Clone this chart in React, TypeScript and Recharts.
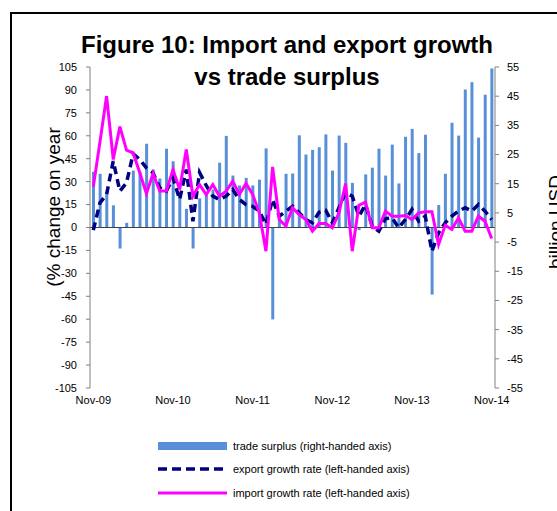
import {
  ComposedChart,
  Bar,
  Line,
  XAxis,
  YAxis,
  ReferenceLine,
} from "recharts";

const MONTHS = ["Jan", "Feb", "Mar", "Apr", "May", "Jun", "Jul", "Aug", "Sep", "Oct", "Nov", "Dec"];

// Nov-09 .. Nov-14, monthly
const categories: string[] = [];
for (let i = 0; i < 61; i++) {
  const m = (10 + i) % 12;
  const y = 9 + Math.floor((10 + i) / 12);
  categories.push(`${MONTHS[m]}-${String(y).padStart(2, "0")}`);
}

const xTicks = ["Nov-09", "Nov-10", "Nov-11", "Nov-12", "Nov-13", "Nov-14"];
const leftTicks = [-105, -90, -75, -60, -45, -30, -15, 0, 15, 30, 45, 60, 75, 90, 105];
const rightTicks = [-55, -45, -35, -25, -15, -5, 5, 15, 25, 35, 45, 55];

// billion USD
const tradeSurplus = [
  19.1, 18.4, 12, 7.6, -7.2, 1.6, 19.5, 19, 28.7, 19.9, 16.8, 27.0,
  22.7, 12, 6.4, -7.2, 10, 12, 13, 22.2, 31.4, 17.8, 14.4, 17,
  14.4, 16.4, 27.1, -31.5, 5, 18.4, 18.5, 31.6, 25, 26.6, 27.5, 31.9,
  19.5, 31.5, 29, 15.3, -0.9, 18.2, 20.5, 27, 17.8, 28.4, 15.1, 31.1,
  33.8, 25.5, 31.8, -23, 7.7, 18.4, 35.9, 31.5, 47.3, 49.8, 30.8, 45.5,
  54.5,
];

// % change on year
const exportGrowth = [
  -1.7, 16.1, 21.6, 43.4, 23.8, 29.2, 48.2, 44.5, 39, 35.8, 26, 23.8,
  32.5, 18.3, 37.9, 4.1, 36, 27.5, 20.5, 18.3, 20.5, 24.8, 18.3, 15,
  13.9, 10.7, 2, 18.3, 7.4, 10.7, 13.9, 9.6, 5.2, 3.1, 10, 11.3,
  3.1, 12.9, 22.7, 20.5, 7.4, 15, 0.9, -2.4, 5.8, 6.3, -0.2, 5.2,
  11.8, 4.1, 7.4, -15.5, -3.5, 3.1, 7.4, 10.7, 12.9, 10.7, 15, 10.7,
  5.2,
];

const importGrowth = [
  26.6, 56, 86, 44.5, 66, 50.6, 48.8, 35.8, 22.2, 35.3, 23.8, 23.8,
  37.9, 24.8, 51, 20.5, 28.1, 21.6, 28.1, 20.5, 23.8, 30.3, 21.6, 28.8,
  21.6, 9.6, -15.5, 39.7, 5.2, 0.9, 12.9, 8.5, 5.2, -2.4, 2.6, 2.6,
  -0.2, 9.6, 28.8, -15.5, 14.6, 16.6, -0.2, -0.2, 10.7, 7.4, 7.4, 7.8,
  5.2, 9.6, 10.3, 10.3, -11.1, 1.5, -1.3, 6.3, -2.4, -2.4, 7.4, 4.1,
  -7.2,
];

const data = categories.map((month, i) => ({
  month,
  surplus: tradeSurplus[i],
  exports: exportGrowth[i],
  imports: importGrowth[i],
}));

const FONT = '"Liberation Sans", Arial, sans-serif';
const BAR = "#5890D8";
const NAVY = "#000080";
const PINK = "#FF00FF";

const tickStyle = { fontSize: 11, fill: "#000", fontFamily: FONT };

export default function App() {
  return (
    <div
      style={{
        position: "absolute",
        left: 0,
        top: 0,
        width: 557,
        height: 511,
        overflow: "hidden",
        background: "#fff",
        fontFamily: FONT,
      }}
    >
      <div
        style={{
          position: "absolute",
          left: 10,
          top: 12,
          width: 600,
          height: 600,
          border: "2px solid #000",
        }}
      />
      <div style={{ position: "absolute", left: 0, top: 0 }}>
        <ComposedChart
          width={557}
          height={511}
          data={data}
          margin={{ top: 67, right: 22, bottom: 93, left: 50 }}
        >
          <XAxis
            dataKey="month"
            ticks={xTicks}
            interval={0}
            axisLine={false}
            tickLine={false}
            tick={tickStyle}
            height={30}
          />
          <YAxis
            yAxisId="left"
            domain={[-105, 105]}
            ticks={leftTicks}
            interval={0}
            width={40}
            tick={tickStyle}
            tickSize={4}
            tickMargin={9}
            axisLine={{ stroke: "#808080" }}
            tickLine={{ stroke: "#808080" }}
          />
          <YAxis
            yAxisId="right"
            orientation="right"
            domain={[-55, 55]}
            ticks={rightTicks}
            interval={0}
            width={40}
            tick={tickStyle}
            tickSize={4}
            tickMargin={8}
            axisLine={{ stroke: "#808080" }}
            tickLine={{ stroke: "#808080" }}
          />
          <Bar
            yAxisId="right"
            dataKey="surplus"
            fill={BAR}
            barSize={3}
            isAnimationActive={false}
          />
          <ReferenceLine yAxisId="left" y={0} stroke="#404040" strokeWidth={1} />
          <Line
            yAxisId="left"
            type="linear"
            dataKey="exports"
            stroke={NAVY}
            strokeWidth={3.5}
            strokeDasharray="8 5"
            dot={false}
            isAnimationActive={false}
          />
          <Line
            yAxisId="left"
            type="linear"
            dataKey="imports"
            stroke={PINK}
            strokeWidth={3}
            dot={false}
            isAnimationActive={false}
          />
        </ComposedChart>
      </div>

      <div
        style={{
          position: "absolute",
          left: 0,
          width: 574,
          top: 29,
          textAlign: "center",
          fontWeight: "bold",
          fontSize: 24,
          lineHeight: "32px",
          color: "#000",
        }}
      >
        Figure 10: Import and export growth
        <br />
        vs trade surplus
      </div>

      <div
        style={{
          position: "absolute",
          left: 54,
          top: 207,
          transform: "translate(-50%, -50%) rotate(-90deg)",
          fontSize: 19,
          whiteSpace: "nowrap",
          color: "#000",
        }}
      >
        (% change on year
      </div>
      <div
        style={{
          position: "absolute",
          left: 556,
          top: 222,
          transform: "translate(-50%, -50%) rotate(-90deg)",
          fontSize: 19,
          whiteSpace: "nowrap",
          color: "#000",
        }}
      >
        billion USD
      </div>

      <div style={{ position: "absolute", left: 158, top: 434, fontSize: 11, color: "#000" }}>
        {[
          { label: "trade surplus (right-handed axis)", kind: "bar" },
          { label: "export growth rate (left-handed axis)", kind: "dash" },
          { label: "import growth rate (left-handed axis)", kind: "line" },
        ].map((item) => (
          <div key={item.label} style={{ display: "flex", alignItems: "center", height: 23.5 }}>
            <svg width={70} height={10} style={{ marginRight: 5 }}>
              {item.kind === "bar" && <rect x={0} y={1} width={69} height={8} fill={BAR} />}
              {item.kind === "dash" && (
                <line x1={0} y1={5} x2={69} y2={5} stroke={NAVY} strokeWidth={3.5} strokeDasharray="9 5" />
              )}
              {item.kind === "line" && (
                <line x1={0} y1={5} x2={69} y2={5} stroke={PINK} strokeWidth={3} />
              )}
            </svg>
            <span>{item.label}</span>
          </div>
        ))}
      </div>
    </div>
  );
}
